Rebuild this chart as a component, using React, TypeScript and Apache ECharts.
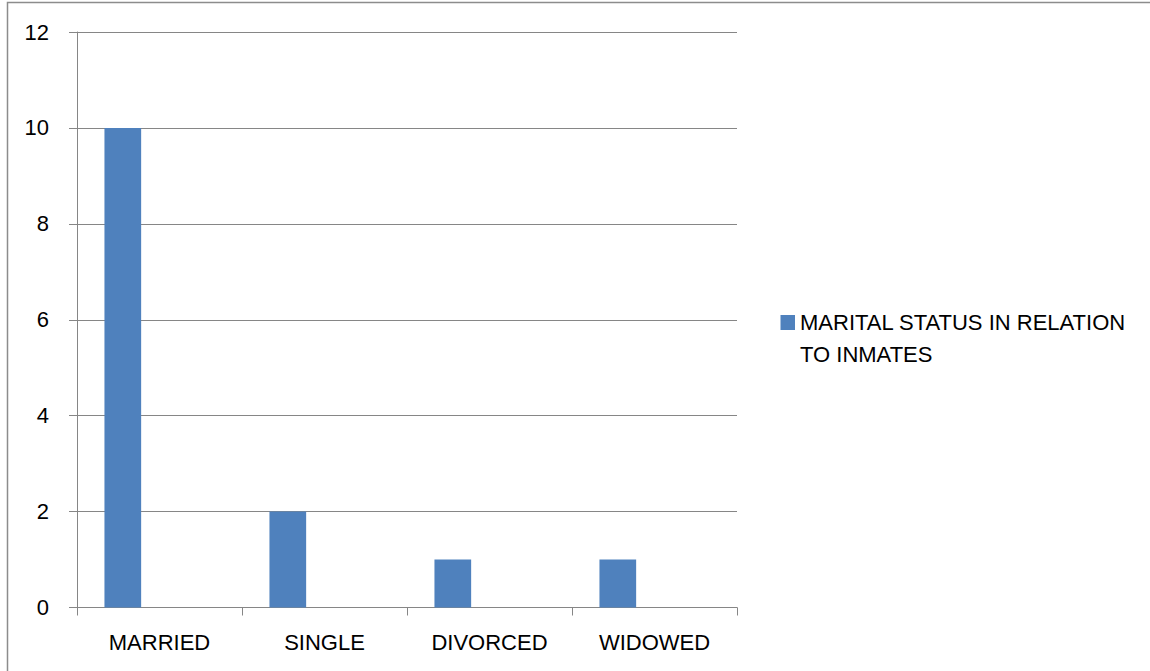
import React, { useEffect, useRef } from "react";
import * as echarts from "echarts";

const categories = ["MARRIED", "SINGLE", "DIVORCED", "WIDOWED"];
const seriesName = "MARITAL STATUS IN RELATION TO INMATES";
const legendLine1 = "MARITAL STATUS IN RELATION";
const legendLine2 = "TO INMATES";
const values = [10, 2, 1, 1];
const yMin = 0;
const yMax = 12;
const yInterval = 2;

const FONT = "Liberation Sans";
const FS = 22;

export default function App() {
  const ref = useRef<HTMLDivElement>(null);
  useEffect(() => {
    document.body.style.margin = "0";
    const chart = echarts.init(ref.current!, null, { renderer: "svg" });
    chart.setOption({
      animation: false,
      backgroundColor: "#ffffff",
      textStyle: { fontFamily: FONT },
      graphic: [
        {
          type: "rect",
          shape: { x: 7.5, y: 2.5, width: 1200, height: 800 },
          style: { fill: "none", stroke: "#8c8c8c", lineWidth: 1.5 },
          silent: true,
        },
        {
          type: "text",
          left: 800,
          top: 343,
          style: { text: legendLine2, fontFamily: FONT, fontSize: FS, fill: "#000" },
          silent: true,
        },
      ],
      grid: { left: 77, right: 413, top: 32, bottom: 63.5, containLabel: false },
      legend: {
        data: [seriesName],
        left: 780.5,
        top: 311.5,
        padding: 0,
        orient: "vertical",
        icon: "rect",
        itemWidth: 14.5,
        itemHeight: 15,
        formatter: () => legendLine1,
        textStyle: { fontFamily: FONT, fontSize: FS, lineHeight: 22, color: "#000" },
      },
      xAxis: {
        type: "category",
        data: categories,
        axisLine: { lineStyle: { color: "#868686", width: 1 } },
        axisTick: { show: true, length: 8, lineStyle: { color: "#868686" } },
        axisLabel: { fontFamily: FONT, fontSize: FS, color: "#000", margin: 24 },
      },
      yAxis: {
        type: "value",
        min: yMin,
        max: yMax,
        interval: yInterval,
        axisLine: { show: true, lineStyle: { color: "#868686", width: 1 } },
        axisTick: { show: true, length: 8, lineStyle: { color: "#868686" } },
        splitLine: { show: true, lineStyle: { color: "#868686", width: 1 } },
        axisLabel: { fontFamily: FONT, fontSize: FS, color: "#000", margin: 28 },
      },
      series: [
        {
          name: seriesName,
          type: "bar",
          data: values,
          barWidth: 36.7,
          barGap: "0%",
          itemStyle: { color: "#4F81BD" },
        },
        { name: "_b", type: "bar", data: values.map(() => "-"), barWidth: 36.7, barGap: "0%" },
        { name: "_c", type: "bar", data: values.map(() => "-"), barWidth: 36.7, barGap: "0%" },
      ],
    });
    return () => chart.dispose();
  }, []);
  return <div ref={ref} style={{ width: 1150, height: 671 }} />;
}
